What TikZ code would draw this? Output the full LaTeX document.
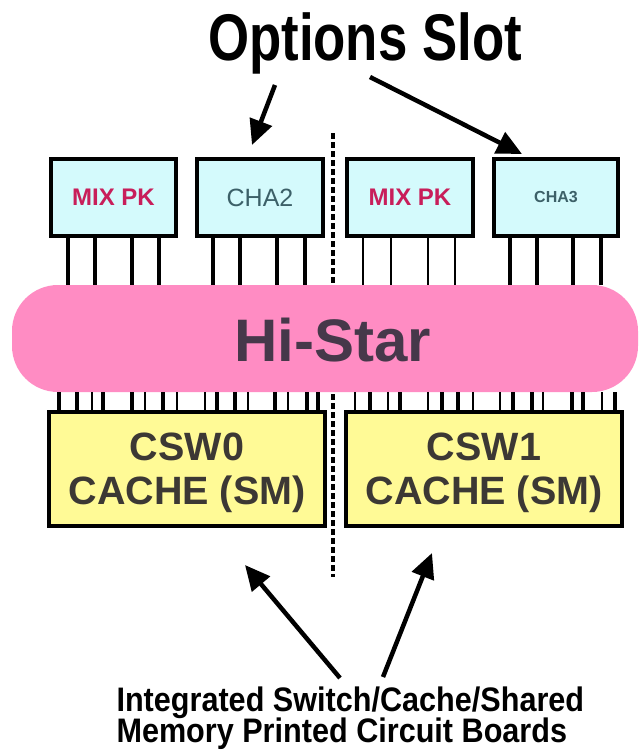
\documentclass[tikz,border=0pt]{standalone}
\usepackage{fontspec}
\setmainfont{Liberation Sans}
\newfontfamily\titlefont[FakeStretch=0.8]{Liberation Sans}
\newfontfamily\notefont[FakeStretch=0.9]{Liberation Sans}
\usetikzlibrary{arrows.meta}
\definecolor{boxcyan}{RGB}{212,250,252}
\definecolor{hipink}{RGB}{255,140,195}
\definecolor{boxyellow}{RGB}{255,250,150}
\definecolor{mixred}{RGB}{200,30,90}
\definecolor{chateal}{RGB}{60,96,104}
\definecolor{histxt}{RGB}{70,56,74}
\definecolor{cswtxt}{RGB}{60,56,52}
\begin{document}
\begin{tikzpicture}[x=1pt,y=-1pt,
  optbox/.style={draw=black,line width=4pt,fill=boxcyan,inner sep=0pt,minimum height=77pt},
  cswbox/.style={draw=black,line width=4pt,fill=boxyellow,inner sep=0pt,minimum width=276pt,minimum height=114pt},
  thickpin/.style={line width=4pt},
  thinpin/.style={line width=2.2pt},
  bigarrow/.style={line width=4.5pt,-{Triangle[length=25pt,width=23pt]}},
  divider/.style={line width=4pt,dash pattern=on 6pt off 3pt},
  mixtxt/.style={font=\bfseries\fontsize{24}{28}\selectfont,text=mixred},
  cswlabel/.style={font=\bfseries\fontsize{39.5}{42}\selectfont,text=cswtxt,anchor=base}
]
\useasboundingbox (0,0) rectangle (640,750);
\fill[white] (0,0) rectangle (640,750);

% divider
\coordinate (dtop) at (333,133);
\coordinate (dbot) at (333,577);
\draw[divider] (dtop) -- (dbot);

% Hi-Star bus
\node[fill=hipink,rounded corners=46pt,minimum width=626pt,minimum height=107pt,inner sep=0pt] (histar) at (325,338.5) {};
\node[font=\bfseries\fontsize{60}{64}\selectfont,text=histxt,anchor=base] (histartxt) at (333,361) {Hi-Star};

% option boxes
\node[optbox,minimum width=125pt] (mixL) at (113.5,197.5) {};
\node[optbox,minimum width=126pt] (cha2) at (260,197.5) {};
\node[optbox,minimum width=126pt] (mixR) at (410,197.5) {};
\node[optbox,minimum width=124pt] (cha3) at (556,197.5) {};
\node[mixtxt] at (mixL) {MIX PK};
\node[mixtxt] at (mixR) {MIX PK};
\node[font=\fontsize{25}{29}\selectfont,text=chateal] at (cha2) {CHA2};
\node[font=\bfseries\fontsize{16}{19}\selectfont,text=chateal] at (cha3) {CHA3};

% pins option boxes -> Hi-Star
\foreach \x in {68,95,132,159} \draw[thickpin] (mixL.south -| \x,0) -- (histar.north -| \x,0);
\foreach \x in {213,240,277,305} \draw[line width=3.2pt] (cha2.south -| \x,0) -- (histar.north -| \x,0);
\foreach \x in {363,391,428,455} \draw[thinpin] (mixR.south -| \x,0) -- (histar.north -| \x,0);
\foreach \x in {510,537,573,601} \draw[thickpin] (cha3.south -| \x,0) -- (histar.north -| \x,0);

% CSW boxes
\node[cswbox] (csw0) at (187,469) {};
\node[cswbox] (csw1) at (484,469) {};
\node[cswlabel] at (187,460) {CSW0};
\node[cswlabel] at (187,504) {CACHE (SM)};
\node[cswlabel] at (484,460) {CSW1};
\node[cswlabel] at (484,504) {CACHE (SM)};

% ticks Hi-Star -> CSW
\foreach \x/\w in {59/4,77/4,92/2,103/4,132/4,145/2,163/4,177/2,205/2,217/4,235/4,248/2,275/4,288/2,307/4,318/4}
  \draw[line width=\w pt] (histar.south -| \x,0) -- (csw0.north -| \x,0);
\foreach \x/\w in {355/2,370/4,388/2,400/4,428/2,442/4,458/4,473/2,500/2,513/4,532/4,543/2,572/4,583/4,602/2,615/4}
  \draw[line width=\w pt] (histar.south -| \x,0) -- (csw1.north -| \x,0);

% title and arrows
\node[font=\titlefont\bfseries\fontsize{66}{70}\selectfont,anchor=base] (title) at (365,60) {Options Slot};
\coordinate (t1) at (275,85);
\coordinate (t1e) at (252,145);
\coordinate (t2) at (370,77);
\coordinate (t2e) at (522,154);
\draw[bigarrow] (t1) -- (t1e);
\draw[bigarrow] (t2) -- (t2e);

% bottom note and arrows
\node[font=\notefont\bfseries\fontsize{34}{38}\selectfont,anchor=base west] (note1) at (113,711) {Integrated Switch/Cache/Shared};
\node[font=\notefont\bfseries\fontsize{34}{38}\selectfont,anchor=base west] (note2) at (113,742) {Memory Printed Circuit Boards};
\coordinate (b1) at (340,678);
\coordinate (b1e) at (245,565);
\coordinate (b2) at (383,677);
\coordinate (b2e) at (432,553);
\draw[bigarrow] (b1) -- (b1e);
\draw[bigarrow] (b2) -- (b2e);
\end{tikzpicture}
\end{document}
